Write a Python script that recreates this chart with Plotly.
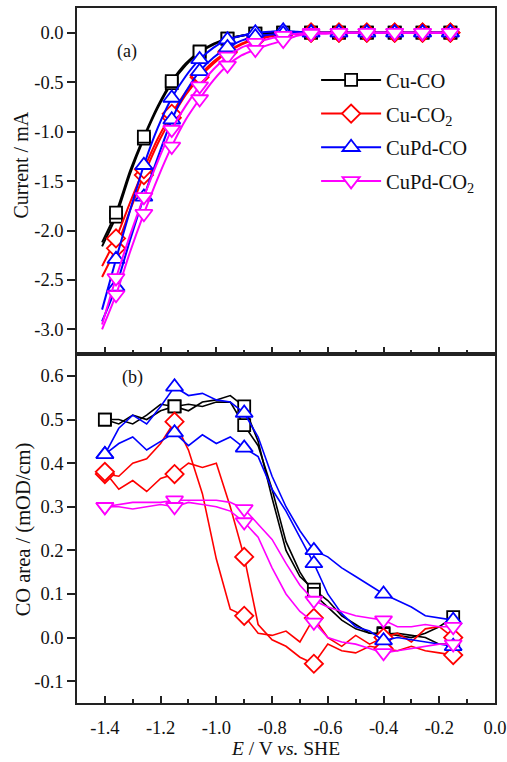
import plotly.graph_objects as go

# ---------------- data ----------------
series_names = ["Cu-CO", "Cu-CO<sub>2</sub>", "CuPd-CO", "CuPd-CO<sub>2</sub>"]
colors = ["#000000", "#ff0000", "#0000ff", "#ff00ff"]
symbols = ["square", "diamond", "triangle-up", "triangle-down"]
msizes = [12, 14, 15, 15]

# panel (a): potential (V) and current (mA), two scans per sample
E_a = [-1.41, -1.36, -1.31, -1.26, -1.21, -1.16, -1.11, -1.06, -1.01, -0.96,
       -0.91, -0.86, -0.81, -0.76, -0.71, -0.66, -0.61, -0.56, -0.51, -0.46,
       -0.41, -0.36, -0.31, -0.26, -0.21, -0.16]
cu_co_i1 = [-2.16, -1.86, -1.43, -1.07, -0.76, -0.51, -0.33, -0.20, -0.12, -0.06,
            -0.03, -0.01, 0.00, 0.00, 0.00, 0.00, 0.00, 0.00, 0.00, 0.00,
            0.00, 0.00, 0.00, 0.00, 0.00, 0.00]
cu_co_i2 = [-2.12, -1.82, -1.40, -1.05, -0.74, -0.49, -0.31, -0.19, -0.11, -0.06,
            -0.03, -0.01, -0.01, 0.00, 0.00, 0.00, 0.00, 0.00, 0.00, 0.00,
            0.00, 0.00, 0.00, 0.00, 0.00, 0.00]
cu_co2_i1 = [-2.47, -2.18, -1.80, -1.44, -1.12, -0.86, -0.63, -0.45, -0.31, -0.20,
             -0.12, -0.07, -0.04, -0.02, -0.01, 0.00, 0.00, 0.00, 0.00, 0.00,
             0.00, 0.00, 0.00, 0.00, 0.00, 0.00]
cu_co2_i2 = [-2.36, -2.08, -1.72, -1.38, -1.07, -0.82, -0.60, -0.43, -0.29, -0.19,
             -0.11, -0.06, -0.03, -0.02, -0.01, 0.00, 0.00, 0.00, 0.00, 0.00,
             0.00, 0.00, 0.00, 0.00, 0.00, 0.00]
cupd_co_i1 = [-2.80, -2.29, -1.80, -1.34, -0.96, -0.66, -0.44, -0.27, -0.15, -0.07,
              -0.03, 0.00, 0.01, 0.02, 0.01, 0.00, 0.00, 0.00, 0.00, 0.00,
              0.00, 0.00, 0.00, 0.00, 0.00, 0.00]
cupd_co_i2 = [-2.92, -2.57, -2.10, -1.66, -1.26, -0.88, -0.60, -0.39, -0.25, -0.15,
              -0.08, -0.04, -0.02, -0.01, 0.00, 0.00, 0.00, 0.00, 0.00, 0.00,
              0.00, 0.00, 0.00, 0.00, 0.00, 0.00]
cupd_co2_i1 = [-2.95, -2.48, -2.05, -1.66, -1.30, -0.98, -0.74, -0.54, -0.37, -0.24,
               -0.15, -0.10, -0.06, -0.03, -0.01, 0.00, 0.00, 0.00, 0.00, 0.00,
               0.00, 0.00, 0.00, 0.00, 0.00, 0.00]
cupd_co2_i2 = [-3.00, -2.65, -2.22, -1.83, -1.47, -1.15, -0.88, -0.67, -0.48, -0.33,
               -0.23, -0.17, -0.12, -0.08, -0.03, -0.01, -0.01, 0.00, 0.00, 0.00,
               0.00, 0.00, 0.00, 0.00, 0.00, 0.00]

# panel (b): potential (V) and CO band area (mOD/cm), two scans per sample
E_b = [-1.40, -1.35, -1.30, -1.25, -1.20, -1.15, -1.10, -1.05, -1.00, -0.95,
       -0.90, -0.85, -0.80, -0.75, -0.70, -0.65, -0.60, -0.55, -0.50, -0.45,
       -0.40, -0.35, -0.30, -0.25, -0.20, -0.15]
cu_co_a1 = [0.50, 0.49, 0.51, 0.50, 0.52, 0.53, 0.52, 0.54, 0.545, 0.555,
            0.53, 0.45, 0.32, 0.20, 0.14, 0.11, 0.085, 0.05, 0.03, 0.01,
            0.01, 0.005, 0.00, 0.01, 0.025, 0.047]
cu_co_a2 = [0.50, 0.50, 0.49, 0.51, 0.535, 0.53, 0.535, 0.53, 0.54, 0.54,
            0.487, 0.44, 0.34, 0.22, 0.15, 0.10, 0.07, 0.04, 0.02, 0.01,
            0.008, 0.01, 0.005, 0.00, -0.015, -0.015]
cu_co2_a1 = [0.375, 0.37, 0.40, 0.41, 0.445, 0.495, 0.43, 0.33, 0.18, 0.065,
             0.05, 0.01, 0.005, 0.015, -0.01, 0.045, 0.00, -0.02, 0.005, -0.015,
             0.00, 0.01, -0.01, 0.02, 0.025, 0.00]
cu_co2_a2 = [0.38, 0.34, 0.36, 0.335, 0.365, 0.375, 0.40, 0.39, 0.40, 0.30,
             0.185, 0.03, -0.005, -0.02, -0.045, -0.06, -0.015, -0.03, -0.035, -0.02,
             -0.025, -0.03, -0.02, -0.03, -0.035, -0.04]
cupd_co_a1 = [0.42, 0.48, 0.51, 0.49, 0.53, 0.575, 0.555, 0.56, 0.545, 0.54,
              0.515, 0.46, 0.37, 0.30, 0.245, 0.20, 0.185, 0.16, 0.14, 0.12,
              0.10, 0.085, 0.07, 0.05, 0.045, 0.04]
cupd_co_a2 = [0.42, 0.445, 0.46, 0.43, 0.45, 0.47, 0.44, 0.465, 0.445, 0.46,
              0.435, 0.415, 0.34, 0.29, 0.23, 0.17, 0.10, 0.055, 0.025, 0.015,
              -0.007, 0.00, -0.005, -0.01, -0.015, -0.02]
cupd_co2_a1 = [0.30, 0.305, 0.31, 0.31, 0.31, 0.315, 0.315, 0.315, 0.315, 0.31,
               0.295, 0.26, 0.225, 0.17, 0.12, 0.085, 0.07, 0.06, 0.05, 0.045,
               0.04, 0.025, 0.025, 0.03, 0.025, 0.025]
cupd_co2_a2 = [0.30, 0.30, 0.295, 0.30, 0.305, 0.30, 0.31, 0.305, 0.30, 0.29,
               0.265, 0.23, 0.16, 0.10, 0.06, 0.035, 0.00, -0.01, -0.015, -0.025,
               -0.035, -0.03, -0.025, -0.02, -0.015, -0.015]

top_scans = [(cu_co_i1, cu_co_i2), (cu_co2_i1, cu_co2_i2),
             (cupd_co_i1, cupd_co_i2), (cupd_co2_i1, cupd_co2_i2)]
bot_scans = [(cu_co_a1, cu_co_a2), (cu_co2_a1, cu_co2_a2),
             (cupd_co_a1, cupd_co_a2), (cupd_co2_a1, cupd_co2_a2)]

x_ticks = [-1.4, -1.2, -1.0, -0.8, -0.6, -0.4, -0.2, 0.0]
x_ticklabels = ["-1.4", "-1.2", "-1.0", "-0.8", "-0.6", "-0.4", "-0.2", "0.0"]
ya_ticks = [0.0, -0.5, -1.0, -1.5, -2.0, -2.5, -3.0]
ya_ticklabels = ["0.0", "-0.5", "-1.0", "-1.5", "-2.0", "-2.5", "-3.0"]
yb_ticks = [-0.1, 0.0, 0.1, 0.2, 0.3, 0.4, 0.5, 0.6]
yb_ticklabels = ["-0.1", "0.0", "0.1", "0.2", "0.3", "0.4", "0.5", "0.6"]

# ---------------- figure ----------------
FONT = "Liberation Serif, Times New Roman, serif"
fig = go.Figure()

for k in range(4):
    c = colors[k]
    mk = dict(symbol=symbols[k], size=msizes[k], color="white",
              line=dict(color=c, width=1.8))
    # panel (a)
    for ys in top_scans[k]:
        fig.add_trace(go.Scatter(x=E_a, y=ys, mode="lines", xaxis="x2", yaxis="y2",
                                 line=dict(color=c, width=2, shape="spline", smoothing=0.6),
                                 showlegend=False, hoverinfo="skip"))
    for ys in top_scans[k]:
        fig.add_trace(go.Scatter(x=E_a[1::2], y=ys[1::2], mode="markers",
                                 xaxis="x2", yaxis="y2", marker=mk,
                                 showlegend=False, hoverinfo="skip"))
    # panel (b)
    for ys in bot_scans[k]:
        fig.add_trace(go.Scatter(x=E_b, y=ys, mode="lines", xaxis="x", yaxis="y",
                                 line=dict(color=c, width=1.6),
                                 showlegend=False, hoverinfo="skip"))
    for ys in bot_scans[k]:
        fig.add_trace(go.Scatter(x=E_b[::5], y=ys[::5], mode="markers",
                                 xaxis="x", yaxis="y", marker=mk,
                                 showlegend=False, hoverinfo="skip"))

# legend entries
for k in range(4):
    fig.add_trace(go.Scatter(x=[None], y=[None], mode="lines+markers", name=series_names[k],
                             xaxis="x2", yaxis="y2", legendgroup=str(k),
                             line=dict(color=colors[k], width=2),
                             marker=dict(symbol=symbols[k], size=msizes[k], color="white",
                                         line=dict(color=colors[k], width=1.8))))

axis_line = dict(showline=True, linecolor="#222222", linewidth=1.5, mirror=True,
                 showgrid=False, zeroline=False)
minor_ticks = dict(dtick=0.1, tick0=0, ticks="inside", ticklen=4, tickwidth=1.5,
                   tickcolor="#222222")

fig.update_layout(
    width=507, height=762,
    margin=dict(l=77, r=12, t=8, b=59, autoexpand=False),
    paper_bgcolor="white", plot_bgcolor="white",
    font=dict(family=FONT, size=18, color="#111111"),
    xaxis=dict(range=[-1.5, 0.0], anchor="y", tickvals=x_ticks, ticktext=x_ticklabels,
               ticks="inside", ticklen=7, tickwidth=1.5, tickcolor="#222222",
               minor=minor_ticks, tickfont=dict(size=18.5), ticklabelstandoff=7,
               title=dict(text="<i>E</i> / V <i>vs.</i> SHE", font=dict(size=19.5), standoff=2),
               **axis_line),
    xaxis2=dict(range=[-1.5, 0.0], anchor="y2", matches="x",
                tickvals=x_ticks, showticklabels=False,
                ticks="inside", ticklen=7, tickwidth=1.5, tickcolor="#222222",
                minor=minor_ticks, **axis_line),
    yaxis=dict(domain=[0, 0.502], range=[-0.15, 0.65], anchor="x",
               tickvals=yb_ticks, ticktext=yb_ticklabels, ticks="outside", ticklen=8,
               tickwidth=1.5, tickcolor="#222222", tickfont=dict(size=18.5),
               **axis_line),
    yaxis2=dict(domain=[0.502, 1], range=[-3.25, 0.25], anchor="x2",
                tickvals=ya_ticks, ticktext=ya_ticklabels, ticks="outside", ticklen=8,
                tickwidth=1.5, tickcolor="#222222", tickfont=dict(size=18.5),
                **axis_line),
    legend=dict(x=0.572, y=0.925, xanchor="left", yanchor="top",
                bgcolor="rgba(0,0,0,0)", font=dict(size=20.5), itemwidth=60,
                tracegroupgap=4),
    annotations=[
        dict(text="(a)", x=0.12, y=0.937, xref="paper", yref="paper",
             xanchor="center", yanchor="middle", showarrow=False, font=dict(size=18)),
        dict(text="(b)", x=0.132, y=0.468, xref="paper", yref="paper",
             xanchor="center", yanchor="middle", showarrow=False, font=dict(size=18)),
        dict(text="Current / mA", x=-0.133, y=0.774, xref="paper", yref="paper",
             xanchor="center", yanchor="middle", textangle=-90, showarrow=False,
             font=dict(size=20)),
        dict(text="CO area / (mOD/cm)", x=-0.129, y=0.25, xref="paper", yref="paper",
             xanchor="center", yanchor="middle", textangle=-90, showarrow=False,
             font=dict(size=20.5)),
    ],
)

fig.write_html("out.html")
